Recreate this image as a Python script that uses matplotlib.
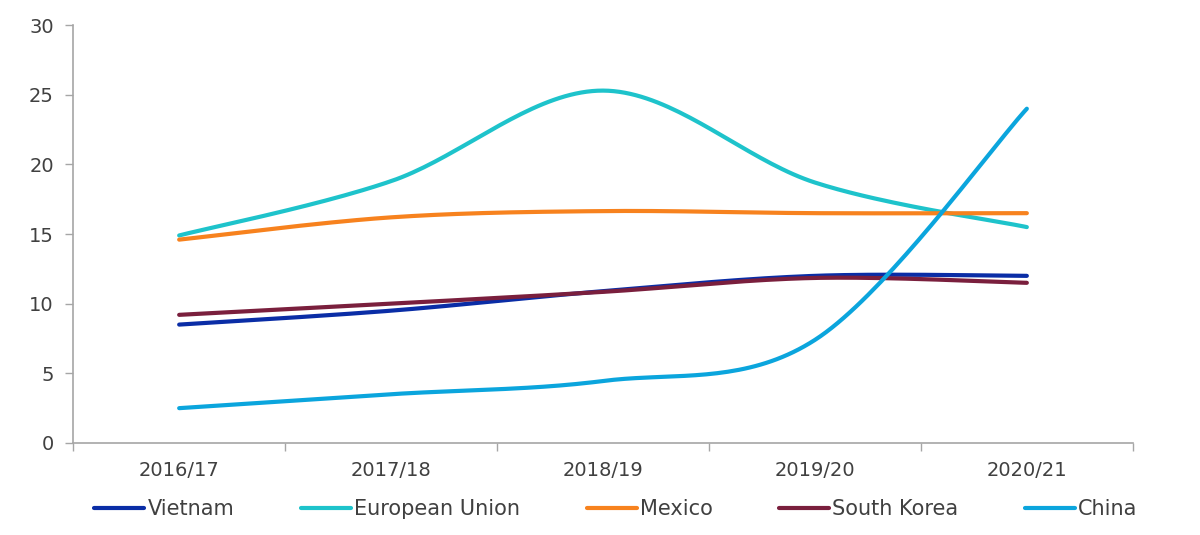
import numpy as np
import matplotlib
matplotlib.use("Agg")
import matplotlib.pyplot as plt
from matplotlib.ticker import FixedLocator, NullFormatter

categories = ["2016/17", "2017/18", "2018/19", "2019/20", "2020/21"]
vietnam = [8.5, 9.5, 10.9, 12.0, 12.0]
eu = [14.9, 18.8, 25.3, 18.7, 15.5]
mexico = [14.6, 16.2, 16.65, 16.5, 16.5]
south_korea = [9.2, 10.0, 10.85, 11.85, 11.5]
china = [2.5, 3.5, 4.45, 7.4, 24.0]

series_names = ["Vietnam", "European Union", "Mexico", "South Korea", "China"]
series_values = [vietnam, eu, mexico, south_korea, china]
colors = ["#0A2DA6", "#1EC3CB", "#F7821E", "#7A1F3D", "#0BA5DD"]


def smooth(xs, ys, n=40):
    xs = np.asarray(xs, float)
    ys = np.asarray(ys, float)
    P = np.column_stack([xs, ys])
    m = len(P)
    out = []
    t = np.linspace(0, 1, n)[:, None]
    for i in range(m - 1):
        p0 = P[max(i - 1, 0)]
        p1 = P[i]
        p2 = P[i + 1]
        p3 = P[min(i + 2, m - 1)]
        c1 = p1 + (p2 - p0) / 6.0
        c2 = p2 - (p3 - p1) / 6.0
        seg = ((1 - t) ** 3) * p1 + 3 * ((1 - t) ** 2) * t * c1 + 3 * (1 - t) * t ** 2 * c2 + t ** 3 * p2
        out.append(seg if i == 0 else seg[1:])
    S = np.vstack(out)
    return S[:, 0], S[:, 1]


fig = plt.figure(figsize=(12, 5.35), dpi=100)
ax = fig.add_axes([0.061, 0.172, 0.883, 0.781])

x = np.arange(len(categories))
for name, vals, c in zip(series_names, series_values, colors):
    sx, sy = smooth(x, vals)
    ax.plot(sx, sy, color=c, lw=3, label=name, solid_capstyle="round")

ax.set_xlim(-0.5, len(categories) - 0.5)
ax.set_ylim(0, 30)
ax.set_yticks(np.arange(0, 31, 5))
ax.set_xticks(x)
ax.set_xticklabels(categories)
ax.xaxis.set_minor_locator(FixedLocator(np.arange(-0.5, len(categories), 1.0)))
ax.xaxis.set_minor_formatter(NullFormatter())
ax.tick_params(axis="x", which="major", length=0, pad=13, labelsize=14, labelcolor="#404040")
ax.tick_params(axis="x", which="minor", length=6, width=1, color="#A6A6A6", direction="out")
ax.tick_params(axis="y", length=6, width=1, color="#A6A6A6", labelsize=14, labelcolor="#404040", pad=8)

for s in ["top", "right"]:
    ax.spines[s].set_visible(False)
for s in ["left", "bottom"]:
    ax.spines[s].set_color("#A6A6A6")
    ax.spines[s].set_linewidth(1.2)

leg = ax.legend(loc="upper left", bbox_to_anchor=(0.012, -0.115), ncol=5, frameon=False,
                fontsize=15, handlelength=2.4, handletextpad=0.15, columnspacing=3.2,
                labelcolor="#404040", borderaxespad=0)

fig.savefig("out.png", dpi=100, facecolor="white")
